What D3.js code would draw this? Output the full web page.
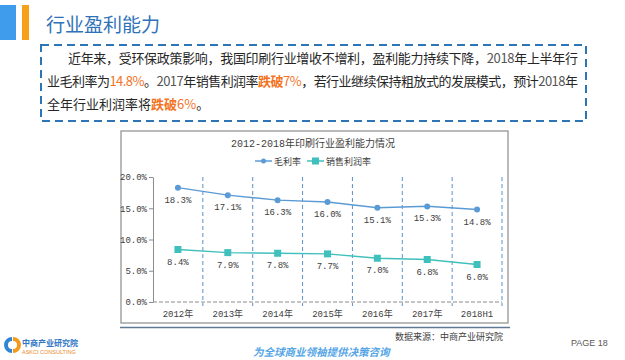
<!DOCTYPE html>
<html><head><meta charset="utf-8">
<script src="https://cdn.jsdelivr.net/npm/d3@7"></script>
<style>
html,body{margin:0;padding:0;background:#fff;}
svg{display:block;}
</style></head>
<body>
<svg id="c" width="625" height="360"></svg>
<script>
// ---- data ----
const categories = ["2012年","2013年","2014年","2015年","2016年","2017年","2018H1"];
const grossMargin = [18.3,17.1,16.3,16.0,15.1,15.3,14.8];
const salesProfit = [8.4,7.9,7.8,7.7,7.0,6.8,6.0];
const yTicks = [0,5,10,15,20];
const seriesNames = ["毛利率","销售利润率"];
const pageTitle = "行业盈利能力";
const chartTitle = "2012-2018年印刷行业盈利能力情况";
const sourceText = "数据来源：中商产业研究院";

const svg = d3.select("#c");
const CJK = "'Noto Sans CJK SC','Noto Sans',sans-serif";
const MONO = "'Liberation Mono','Noto Sans CJK SC',monospace";
const blue = "#5b9bd5", teal = "#3fc0bd";

// header bars and title
svg.append("rect").attr("x",0).attr("y",5).attr("width",16).attr("height",35).attr("fill","#3f9cec");
svg.append("rect").attr("x",22).attr("y",5).attr("width",7).attr("height",35).attr("fill","#f7a11a");
svg.append("text").attr("x",46).attr("y",32).attr("font-family",CJK).attr("font-size",19)
  .attr("fill","#2f72b8").text(pageTitle);

// dashed box
svg.append("rect").attr("x",41).attr("y",45).attr("width",545).attr("height",76)
  .attr("fill","none").attr("stroke","#2e75b6").attr("stroke-width",2).attr("stroke-dasharray","8,5");

// paragraph
const orange = "#f4731f";
const lines = [
  {x:68,y:63,len:510,parts:[["近年来，受环保政策影响，我国印刷行业增收不增利，盈利能力持续下降，","#262626"],["2018","#555"],["年上半年行","#262626"]]},
  {x:47,y:86,len:531,parts:[["业毛利率为","#262626"],["14.8%",orange],["。","#262626"],["2017","#555"],["年销售利润率","#262626"],["跌破",orange,true],["7%",orange],["，若行业继续保持粗放式的发展模式，预计","#262626"],["2018","#555"],["年","#262626"]]},
  {x:47,y:109,len:null,parts:[["全年行业利润率将","#262626"],["跌破",orange,true],["6%",orange],["。","#262626"]]}
];
lines.forEach(l=>{
  const t = svg.append("text").attr("x",l.x).attr("y",l.y).attr("font-family",CJK).attr("font-size",13);
  if(l.len){t.attr("textLength",l.len).attr("lengthAdjust","spacing");}
  l.parts.forEach(p=>{
    t.append("tspan").attr("fill",p[1]).attr("font-weight",p[2]?"bold":null).text(p[0]);
  });
});

// chart frame
svg.append("rect").attr("x",121).attr("y",131).attr("width",387).attr("height",192)
  .attr("fill","#fff").attr("stroke","#8c8c8c").attr("stroke-width",1.2);
svg.append("line").attr("x1",120).attr("x2",510).attr("y1",327.5).attr("y2",327.5)
  .attr("stroke","#5f7a94").attr("stroke-width",1.5);

// chart title
svg.append("text").attr("x",313).attr("y",147).attr("text-anchor","middle")
  .attr("font-family",MONO).attr("font-size",10).attr("fill","#404040").text(chartTitle);

// legend
const legend = [{name:seriesNames[0],color:blue,shape:"circle",x:255},{name:seriesNames[1],color:teal,shape:"square",x:307}];
legend.forEach(d=>{
  const g = svg.append("g");
  g.append("line").attr("x1",d.x).attr("x2",d.x+17).attr("y1",161).attr("y2",161).attr("stroke",d.color).attr("stroke-width",1.5);
  if(d.shape==="circle") g.append("circle").attr("cx",d.x+8.5).attr("cy",161).attr("r",2.5).attr("fill",d.color);
  else g.append("rect").attr("x",d.x+5).attr("y",157.5).attr("width",7).attr("height",7).attr("fill",d.color);
  g.append("text").attr("x",d.x+19).attr("y",164.5).attr("font-family",CJK).attr("font-size",9).attr("fill","#404040").text(d.name);
});

// scales
const x = d3.scaleBand().domain(categories).range([153,502]).padding(0);
const y = d3.scaleLinear().domain([0,20]).range([302,177]);

// vertical dashed grid lines at category boundaries
const bounds = d3.range(1,categories.length+1).map(i=>x.range()[0]+i*x.step());
svg.append("g").selectAll("line").data(bounds).join("line")
  .attr("x1",d=>d).attr("x2",d=>d).attr("y1",y(20)).attr("y2",y(0)+4)
  .attr("stroke","#5b8fc9").attr("stroke-width",1).attr("stroke-dasharray","4,3");

// x axis (dashed baseline)
svg.append("line").attr("x1",x.range()[0]).attr("x2",x.range()[1]).attr("y1",y(0)).attr("y2",y(0))
  .attr("stroke","#8c8c8c").attr("stroke-width",1).attr("stroke-dasharray","4,2");
const xAxis = svg.append("g").attr("transform",`translate(0,${y(0)})`)
  .call(d3.axisBottom(x).tickSize(0).tickPadding(9));
xAxis.select(".domain").remove();
xAxis.selectAll("text").attr("font-family",MONO).attr("font-size",9).attr("fill","#404040");

// y axis
const yAxis = svg.append("g").attr("transform",`translate(${x.range()[0]},0)`)
  .call(d3.axisLeft(y).tickValues(yTicks).tickFormat(d=>d.toFixed(1)+"%").tickSize(4).tickSizeOuter(0).tickPadding(2));
yAxis.select(".domain").attr("stroke","#8c8c8c");
yAxis.selectAll(".tick line").attr("stroke","#8c8c8c");
yAxis.selectAll("text").attr("font-family",MONO).attr("font-size",9).attr("fill","#404040");

// series
function drawSeries(vals,color,shape){
  const line = d3.line().x((d,i)=>x(categories[i])+x.bandwidth()/2).y(d=>y(d));
  svg.append("path").datum(vals).attr("d",line).attr("fill","none").attr("stroke",color).attr("stroke-width",1.5);
  const g = svg.append("g");
  vals.forEach((v,i)=>{
    const cx = x(categories[i])+x.bandwidth()/2, cy = y(v);
    if(shape==="circle") g.append("circle").attr("cx",cx).attr("cy",cy).attr("r",3).attr("fill",color);
    else g.append("rect").attr("x",cx-3.5).attr("y",cy-3.5).attr("width",7).attr("height",7).attr("fill",color);
    g.append("text").attr("x",cx).attr("y",cy+15).attr("text-anchor","middle")
      .attr("font-family",MONO).attr("font-size",9).attr("fill","#404040").text(v.toFixed(1)+"%");
  });
}
drawSeries(grossMargin,blue,"circle");
drawSeries(salesProfit,teal,"square");

// source & footer
svg.append("text").attr("x",395).attr("y",340).attr("font-family",CJK).attr("font-size",9).attr("fill","#404040").text(sourceText);
svg.append("text").attr("x",571).attr("y",346).attr("font-family","'Liberation Sans',sans-serif").attr("font-size",9).attr("fill","#595959").text("PAGE  18");
svg.append("text").attr("x",253).attr("y",356).attr("font-family",CJK).attr("font-size",10.5).attr("font-style","italic")
  .attr("font-weight","bold").attr("fill","#56a6e6").text("为全球商业领袖提供决策咨询");

// logo
svg.append("path").attr("d","M12,337 A8,8 0 1,0 12,353 L12,349 A4,4 0 1,1 12,341 Z").attr("fill","#2f86d6");
svg.append("path").attr("d","M13,341 A4,4 0 0,1 13,349 L13,353 A8,8 0 0,0 13,337 Z").attr("fill","#f39a1e");
svg.append("text").attr("x",22).attr("y",346).attr("font-family",CJK).attr("font-size",8).attr("font-weight","bold").attr("fill","#2f76c6").text("中商产业研究院");
svg.append("text").attr("x",22).attr("y",354).attr("font-family","'Liberation Sans',sans-serif").attr("font-size",5.5).attr("fill","#e8882a").text("ASKCI CONSULTING");
</script>
</body></html>
